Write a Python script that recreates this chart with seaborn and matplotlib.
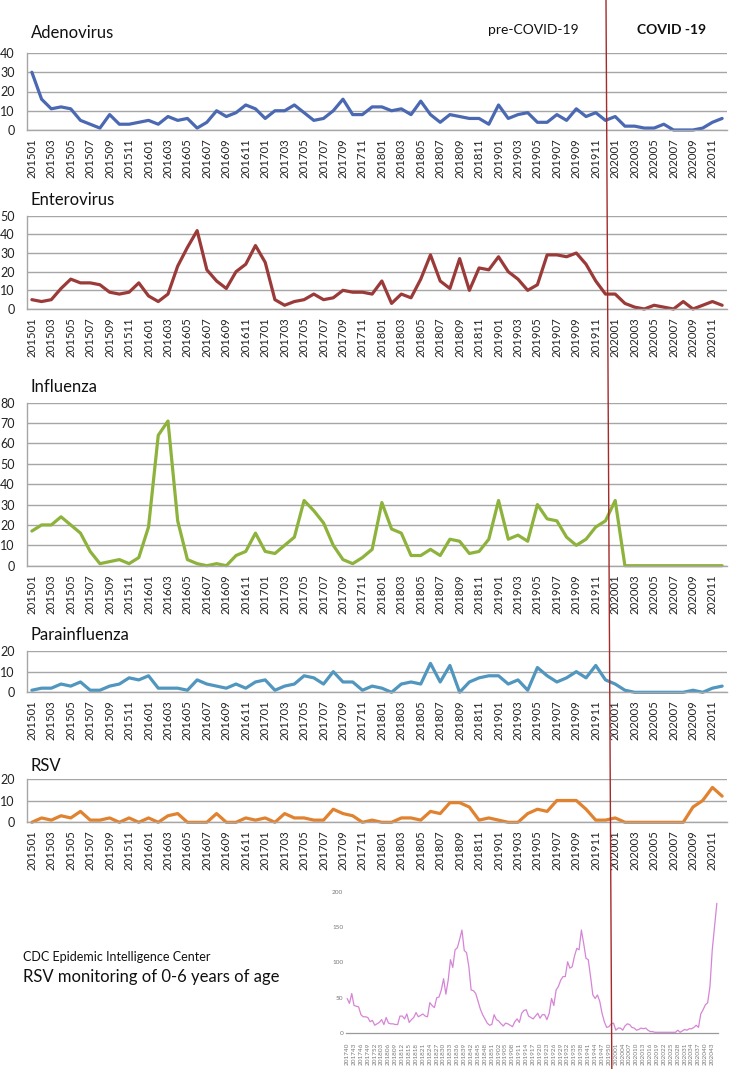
import numpy as np
import pandas as pd
import matplotlib
matplotlib.use("Agg")
import matplotlib.pyplot as plt
import seaborn as sns
from matplotlib.lines import Line2D

# ---------------- data ----------------
months = [f"{y}{m:02d}" for y in range(2015, 2021) for m in range(1, 13)]
tick_months = months[::2]

adenovirus = [30, 16, 11, 12, 11, 5, 3, 1, 8, 3, 3, 4,
              5, 3, 7, 5, 6, 1, 4, 10, 7, 9, 13, 11,
              6, 10, 10, 13, 9, 5, 6, 10, 16, 8, 8, 12,
              12, 10, 11, 8, 15, 8, 4, 8, 7, 6, 6, 3,
              13, 6, 8, 9, 4, 4, 8, 5, 11, 7, 9, 5,
              7, 2, 2, 1, 1, 3, 0, 0, 0, 1, 4, 6]
enterovirus = [5, 4, 5, 11, 16, 14, 14, 13, 9, 8, 9, 14,
               7, 4, 8, 23, 33, 42, 21, 15, 11, 20, 24, 34,
               25, 5, 2, 4, 5, 8, 5, 6, 10, 9, 9, 8,
               15, 3, 8, 6, 16, 29, 15, 11, 27, 10, 22, 21,
               28, 20, 16, 10, 13, 29, 29, 28, 30, 24, 15, 8,
               8, 3, 1, 0, 2, 1, 0, 4, 0, 2, 4, 2]
influenza = [17, 20, 20, 24, 20, 16, 7, 1, 2, 3, 1, 4,
             19, 64, 71, 22, 3, 1, 0, 1, 0, 5, 7, 16,
             7, 6, 10, 14, 32, 27, 21, 10, 3, 1, 4, 8,
             31, 18, 16, 5, 5, 8, 5, 13, 12, 6, 7, 13,
             32, 13, 15, 12, 30, 23, 22, 14, 10, 13, 19, 22,
             32, 0, 0, 0, 0, 0, 0, 0, 0, 0, 0, 0]
parainfluenza = [1, 2, 2, 4, 3, 5, 1, 1, 3, 4, 7, 6,
                 8, 2, 2, 2, 1, 6, 4, 3, 2, 4, 2, 5,
                 6, 1, 3, 4, 8, 7, 4, 10, 5, 5, 1, 3,
                 2, 0, 4, 5, 4, 14, 5, 13, 0, 5, 7, 8,
                 8, 4, 6, 1, 12, 8, 5, 7, 10, 7, 13, 6,
                 4, 1, 0, 0, 0, 0, 0, 0, 1, 0, 2, 3]
rsv = [0, 2, 1, 3, 2, 5, 1, 1, 2, 0, 2, 0,
       2, 0, 3, 4, 0, 0, 0, 4, 0, 0, 2, 1,
       2, 0, 4, 2, 2, 1, 1, 6, 4, 3, 0, 1,
       0, 0, 2, 2, 1, 5, 4, 9, 9, 7, 1, 2,
       1, 0, 0, 4, 6, 5, 10, 10, 10, 6, 1, 1,
       2, 0, 0, 0, 0, 0, 0, 0, 7, 10, 16, 12]

cdc_weeks = ([f"2017{w:02d}" for w in range(40, 53)] +
             [f"2018{w:02d}" for w in range(1, 53)] +
             [f"2019{w:02d}" for w in range(1, 53)] +
             [f"2020{w:02d}" for w in range(1, 46)])
cdc_rsv = [49, 42, 56, 39, 38, 37, 26, 23, 23, 22,
           16, 18, 11, 13, 15, 19, 12, 22, 14, 13,
           13, 12, 12, 24, 24, 20, 27, 15, 19, 22,
           29, 23, 25, 27, 24, 23, 43, 39, 36, 50,
           51, 61, 77, 55, 75, 104, 93, 118, 121, 133,
           146, 117, 114, 94, 61, 60, 56, 45, 34, 26,
           20, 14, 11, 12, 26, 19, 17, 13, 10, 14,
           13, 11, 9, 16, 20, 15, 28, 32, 33, 24,
           22, 20, 24, 28, 21, 26, 26, 19, 28, 49,
           39, 61, 66, 75, 80, 80, 101, 92, 94, 109,
           120, 118, 146, 127, 106, 104, 80, 54, 49, 54,
           45, 28, 16, 8, 9, 13, 14, 4, 7, 7,
           4, 10, 13, 12, 8, 7, 4, 5, 7, 6,
           7, 4, 2, 2, 1, 1, 1, 1, 1, 1,
           1, 1, 1, 1, 4, 1, 3, 5, 4, 6,
           6, 8, 11, 8, 27, 33, 40, 43, 66, 118,
           151, 184]

# ---------------- style ----------------
sns.set_style("white")
plt.rcParams['font.family'] = ['Lato', 'DejaVu Sans']

W, H = 731, 1069
fig = plt.figure(figsize=(W / 100, H / 100), dpi=100)

GRID = "#A6A6A6"

panels = [
    ("Adenovirus", adenovirus, "#4B68B2", 40, 10, 53, 130, 33),
    ("Enterovirus", enterovirus, "#9A3B39", 50, 10, 215.7, 309, 200),
    ("Influenza", influenza, "#8DB33C", 80, 10, 402.7, 565.7, 387),
    ("Parainfluenza", parainfluenza, "#5096BE", 20, 10, 651, 692.3, 635),
    ("RSV", rsv, "#E0822F", 20, 10, 778.7, 822.3, 766),
]

left_px, right_px = 27, 727
for name, vals, color, ymax, step, top_px, bot_px, title_y in panels:
    ax = fig.add_axes([left_px / W, 1 - bot_px / H,
                       (right_px - left_px) / W, (bot_px - top_px) / H])
    df = pd.DataFrame({"month": months, "value": vals})
    sns.lineplot(data=df, x="month", y="value", ax=ax, color=color,
                 linewidth=2.3, sort=False, clip_on=False)
    ax.set_xlim(-0.5, len(months) - 0.5)
    ax.set_ylim(0, ymax)
    ax.set_yticks(np.arange(0, ymax + 1, step))
    ax.set_xticks(range(0, len(months), 2))
    ax.set_xticklabels(tick_months, rotation=90, fontsize=8.2)
    ax.tick_params(axis='x', length=0, pad=6, colors='#222222')
    ax.tick_params(axis='y', length=0, pad=9, labelsize=9, colors='#222222')
    ax.grid(axis='y', color=GRID, linewidth=1.0)
    ax.grid(axis='x', visible=False)
    ax.set_axisbelow(True)
    for s in ['top', 'right']:
        ax.spines[s].set_visible(False)
    for s in ['left', 'bottom']:
        ax.spines[s].set_color(GRID)
        ax.spines[s].set_linewidth(1.0)
    ax.set_xlabel("")
    ax.set_ylabel("")
    fig.text(31 / W, 1 - title_y / H, name, fontsize=12, va='center', ha='left',
             color='#111111')

fig.text(488 / W, 1 - 30 / H, "pre-COVID-19", fontsize=10, va='center', ha='left',
         color='#111111')
fig.text(637 / W, 1 - 30 / H, "COVID -19", fontsize=10, fontweight='bold',
         va='center', ha='left', color='#111111')

# ---------------- inset: CDC weekly RSV ----------------
axi = fig.add_axes([346 / W, 1 - 1033 / H, (718 - 346) / W, (1033 - 892) / H])
dfi = pd.DataFrame({"week": cdc_weeks, "value": cdc_rsv})
sns.lineplot(data=dfi, x="week", y="value", ax=axi, color="#D685D6",
             linewidth=0.9, sort=False)
axi.set_xlim(-0.5, len(cdc_weeks) - 0.5)
axi.set_ylim(0, 200)
axi.set_yticks([0, 50, 100, 150, 200])
axi.set_xticks(range(0, len(cdc_weeks), 3))
axi.set_xticklabels(cdc_weeks[::3], rotation=90, fontsize=4.6)
axi.tick_params(axis='x', length=0, pad=7, colors='#777777')
axi.tick_params(axis='y', length=0, pad=2, labelsize=4.6, colors='#777777')
axi.grid(False)
for s in ['top', 'right', 'left']:
    axi.spines[s].set_visible(False)
axi.spines['bottom'].set_color('#999999')
axi.spines['bottom'].set_linewidth(0.9)
axi.set_xlabel("")
axi.set_ylabel("")
axi.patch.set_alpha(0)

fig.text(23 / W, 1 - 957 / H, "CDC Epidemic Intelligence Center", fontsize=9,
         va='center', ha='left', color='#111111')
fig.text(23 / W, 1 - 977 / H, "RSV monitoring of 0-6 years of age", fontsize=12,
         va='center', ha='left', color='#111111')

# divider line between pre-COVID and COVID periods
fig.add_artist(Line2D([606 / W, 611.8 / W], [1.0, 0.0], transform=fig.transFigure,
                      color="#A52A2A", linewidth=1.0))

fig.savefig("out.png", dpi=100)
